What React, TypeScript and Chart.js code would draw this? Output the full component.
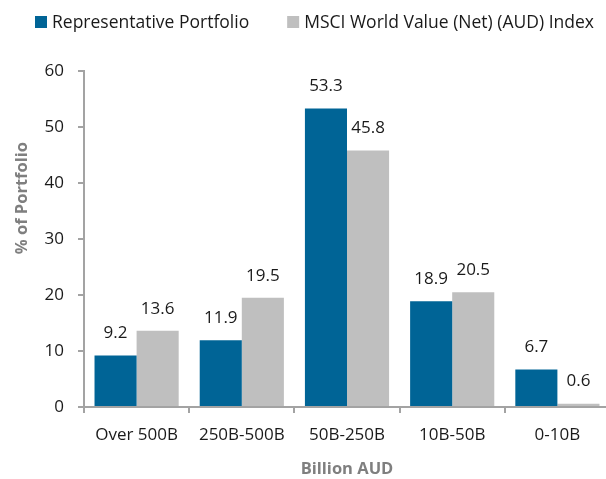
import React, { useEffect, useRef } from "react";
import { Chart, registerables } from "chart.js";

Chart.register(...registerables);

const categories = ["Over 500B", "250B-500B", "50B-250B", "10B-50B", "0-10B"];
const portfolioValues = [9.2, 11.9, 53.3, 18.9, 6.7];
const indexValues = [13.6, 19.5, 45.8, 20.5, 0.6];
const seriesNames = ["Representative Portfolio", "MSCI World Value (Net) (AUD) Index"];
const seriesColors = ["#006496", "#bfbfbf"];
const yTitle = "% of Portfolio";
const xTitle = "Billion AUD";

const FONT = "'Open Sans', 'Noto Sans', sans-serif";
const TEXT = "#1a1a1a";
const AXIS = "#a3a3a3";
const TITLE = "#7f7f7f";

const valueLabels = {
  id: "valueLabels",
  afterDatasetsDraw(chart: any) {
    const ctx = chart.ctx;
    ctx.save();
    ctx.font = `17px ${FONT}`;
    ctx.fillStyle = TEXT;
    ctx.textAlign = "center";
    ctx.textBaseline = "middle";
    chart.data.datasets.forEach((ds: any, i: number) => {
      const meta = chart.getDatasetMeta(i);
      meta.data.forEach((bar: any, j: number) => {
        ctx.fillText(ds.data[j].toFixed(1), bar.x, bar.y - 22);
      });
    });
    ctx.restore();
  },
};

const extras = {
  id: "extras",
  afterDraw(chart: any) {
    const ctx = chart.ctx;
    ctx.save();
    // legend
    ctx.font = `17.5px ${FONT}`;
    ctx.textBaseline = "middle";
    ctx.textAlign = "left";
    let x = 35;
    const cy = 22;
    chart.data.datasets.forEach((ds: any) => {
      ctx.fillStyle = ds.backgroundColor;
      ctx.fillRect(x, cy - 6, 12, 12);
      x += 17;
      ctx.fillStyle = TEXT;
      ctx.fillText(ds.label, x, cy + 1);
      x += ctx.measureText(ds.label).width + 38;
    });
    // y axis title
    const ys = chart.scales.y;
    ctx.font = `bold 16.5px ${FONT}`;
    ctx.fillStyle = TITLE;
    ctx.textAlign = "center";
    ctx.translate(22, ys.getPixelForValue(37.3));
    ctx.rotate(-Math.PI / 2);
    ctx.fillText(yTitle, 0, 0);
    ctx.restore();
  },
};

export default function App() {
  const ref = useRef<HTMLCanvasElement>(null);
  useEffect(() => {
    document.body.style.margin = "0";
    document.body.style.overflow = "hidden";
    const chart = new Chart(ref.current!, {
      type: "bar",
      data: {
        labels: categories,
        datasets: [
          { label: seriesNames[0], data: portfolioValues, backgroundColor: seriesColors[0] },
          { label: seriesNames[1], data: indexValues, backgroundColor: seriesColors[1] },
        ],
      },
      options: {
        animation: false,
        responsive: false,
        layout: { padding: { top: 71, right: 0, left: 0, bottom: 0 } },
        datasets: { bar: { categoryPercentage: 0.8, barPercentage: 1 } } as any,
        plugins: {
          tooltip: { enabled: false },
          legend: { display: false },
        },
        scales: {
          x: {
            afterFit: (s: any) => { s.height = 72; },
            grid: { display: true, drawOnChartArea: false, offset: true, color: AXIS, lineWidth: 2, tickLength: 6 },
            border: { color: AXIS, width: 2 },
            ticks: { color: TEXT, font: { family: FONT, size: 17 }, padding: 12 },
            title: { display: true, text: xTitle, color: TITLE, font: { family: FONT, size: 16.5, weight: "bold" }, padding: { top: 0, bottom: 0 } },
          },
          y: {
            min: 0,
            max: 60,
            afterFit: (s: any) => { s.width = 84; },
            grid: { display: true, drawOnChartArea: false, color: AXIS, lineWidth: 2, tickLength: 6 },
            border: { color: AXIS, width: 2 },
            ticks: { stepSize: 10, color: TEXT, font: { family: FONT, size: 17 }, padding: 14 },
          },
        },
      },
      plugins: [valueLabels, extras],
    });
    return () => chart.destroy();
  }, []);
  return (
    <div style={{ width: 606, height: 479, overflow: "hidden" }}>
      <canvas ref={ref} width={610} height={479} />
    </div>
  );
}
